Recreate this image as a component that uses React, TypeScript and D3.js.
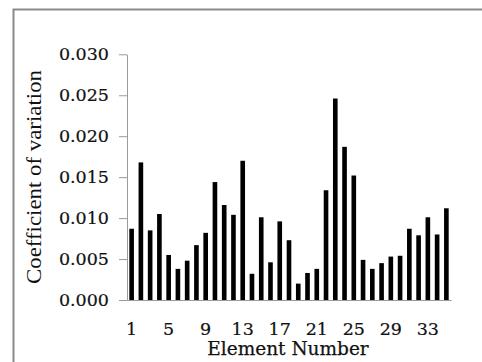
import React, { useRef, useEffect } from 'react';
import * as d3 from 'd3';

const elements: number[] = d3.range(1, 36);
const cvValues: number[] = [
  0.0087, 0.0168, 0.0085, 0.0105, 0.0055, 0.0038, 0.0048, 0.0067, 0.0082, 0.0144,
  0.0116, 0.0104, 0.0170, 0.0032, 0.0101, 0.0046, 0.0096, 0.0073, 0.0020, 0.0033,
  0.0038, 0.0134, 0.0246, 0.0187, 0.0152, 0.0049, 0.0038, 0.0045, 0.0053, 0.0054,
  0.0087, 0.0079, 0.0101, 0.0080, 0.0112,
];
const xTickLabels: number[] = [1, 5, 9, 13, 17, 21, 25, 29, 33];
const yTicks: number[] = [0, 0.005, 0.01, 0.015, 0.02, 0.025, 0.03];

const App: React.FC = () => {
  const ref = useRef<SVGSVGElement>(null);

  useEffect(() => {
    const svg = d3.select(ref.current);
    svg.selectAll('*').remove();
    const width = 482;
    const height = 362;
    const margin = { top: 54.3, right: 31, bottom: 62, left: 127 };
    const font = "'DejaVu Serif', serif";
    const ink = '#111';

    svg.attr('width', width).attr('height', height);

    // frame around the chart area
    svg.append('rect')
      .attr('x', 13.5).attr('y', 9.5)
      .attr('width', 480).attr('height', 360)
      .attr('fill', '#fff')
      .attr('stroke', '#8a8a8a')
      .attr('stroke-width', 2);

    const x = d3.scaleBand<number>()
      .domain(elements)
      .range([margin.left, width - margin.right])
      .paddingInner(0.5)
      .paddingOuter(0.25);

    const y = d3.scaleLinear()
      .domain([0, 0.03])
      .range([height - margin.bottom, margin.top]);

    // y axis
    const yAxis = svg.append('g')
      .attr('transform', `translate(${margin.left},0)`)
      .call(d3.axisLeft(y).tickValues(yTicks).tickFormat(d3.format('.3f')).tickSize(8).tickSizeOuter(0).tickPadding(10));
    yAxis.select('.domain').attr('stroke', '#9a9a9a');
    yAxis.selectAll('.tick line').attr('stroke', '#9a9a9a');
    yAxis.selectAll('.tick text')
      .attr('font-family', font)
      .attr('font-size', 17.5)
      .attr('fill', ink)
      .attr('stroke', ink)
      .attr('stroke-width', 0.2);

    // bars
    svg.append('g')
      .selectAll('rect')
      .data(cvValues)
      .join('rect')
      .attr('x', (d, i) => x(elements[i])!)
      .attr('y', d => y(d))
      .attr('width', x.bandwidth())
      .attr('height', d => y(0) - y(d))
      .attr('fill', '#000');

    // x axis
    const xAxis = svg.append('g')
      .attr('transform', `translate(0,${height - margin.bottom})`)
      .call(d3.axisBottom(x).tickValues(xTickLabels).tickSize(0).tickSizeOuter(0).tickPadding(23));
    xAxis.select('.domain').attr('stroke', '#9a9a9a').attr('stroke-width', 1.2);
    xAxis.selectAll('.tick text')
      .attr('font-family', font)
      .attr('font-size', 17.5)
      .attr('fill', ink)
      .attr('stroke', ink)
      .attr('stroke-width', 0.2);

    // axis titles
    svg.append('text')
      .attr('x', (margin.left + width - margin.right) / 2 - 1)
      .attr('y', 355)
      .attr('text-anchor', 'middle')
      .attr('font-family', font)
      .attr('font-size', 18.5)
      .attr('fill', ink)
      .attr('stroke', ink)
      .attr('stroke-width', 0.25)
      .text('Element Number');

    svg.append('text')
      .attr('transform', 'translate(41,177) rotate(-90)')
      .attr('text-anchor', 'middle')
      .attr('font-family', "'Liberation Serif', 'Times New Roman', serif")
      .attr('font-size', 22)
      .attr('textLength', 214)
      .attr('lengthAdjust', 'spacingAndGlyphs')
      .attr('fill', ink)
      .text('Coefficient of variation');
  }, []);

  return <svg ref={ref} style={{ position: 'absolute', left: 0, top: 0 }}></svg>;
};

export default App;
